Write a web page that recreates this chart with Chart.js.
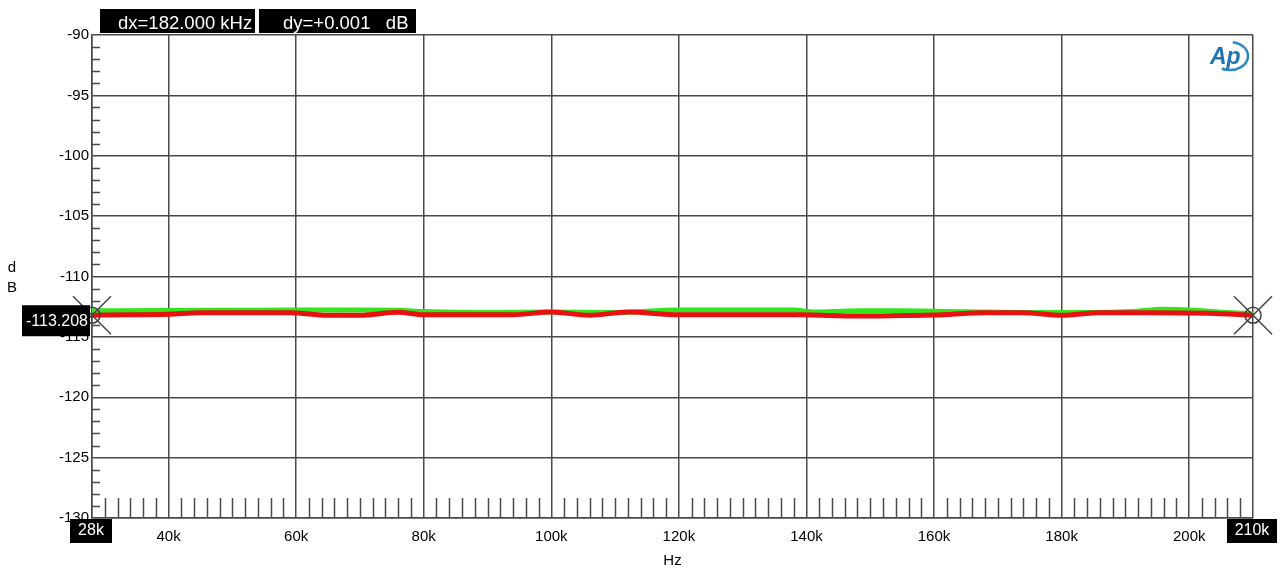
<!DOCTYPE html>
<html>
<head>
<meta charset="utf-8">
<script src="https://cdn.jsdelivr.net/npm/chart.js@4/dist/chart.umd.min.js"></script>
<style>
  html, body { margin: 0; padding: 0; background: #fff; }
  #wrap { width: 1282px; height: 570px; position: relative; }
</style>
</head>
<body>
<div id="wrap"><canvas id="c" width="1282" height="570"></canvas></div>
<script>
// ---- data (frequency in kHz, level in dB) ----
const freqGreen = [28, 40, 50, 60, 70, 76, 80, 90, 100, 110, 120, 130, 138, 141, 148, 155, 160, 165, 175, 185, 191, 196, 200, 205, 210];
const valGreen  = [-112.83, -112.82, -112.80, -112.77, -112.77, -112.80, -112.90, -112.98, -112.94, -112.98, -112.77, -112.77, -112.78, -112.94, -112.84, -112.84, -112.88, -112.92, -112.98, -112.98, -112.90, -112.72, -112.77, -112.95, -113.10];

const freqRed = [28, 34, 40, 45, 52, 59, 65, 70, 76, 80, 87, 94, 100, 106, 112, 120, 130, 139, 148, 155, 160, 168, 174, 180, 186, 194, 203, 210];
const valRed  = [-113.20, -113.17, -113.13, -113.00, -113.00, -113.00, -113.21, -113.21, -112.96, -113.17, -113.17, -113.17, -112.94, -113.21, -112.94, -113.17, -113.17, -113.17, -113.27, -113.23, -113.19, -113.00, -113.00, -113.21, -113.00, -113.00, -113.05, -113.20];

const xTickValues = [28, 40, 60, 80, 100, 120, 140, 160, 180, 200, 210];
const xTickLabels = ['', '40k', '60k', '80k', '100k', '120k', '140k', '160k', '180k', '200k', ''];
const yTickLabels = ['-130', '-125', '-120', '-115', '-110', '-105', '-100', '-95', '-90'];

const cursorX = [28, 210];
const cursorY = [-113.208, -113.207];
const cursorYLabel = '-113.208';
const cursorXLabels = ['28k', '210k'];
const readoutDx = 'dx=182.000 kHz';
const readoutDy = 'dy=+0.001   dB';

const FONT = '"Liberation Sans", Arial, Helvetica, sans-serif';
const GRID = '#4a4a4a';

const overlay = {
  id: 'overlay',
  beforeDatasetsDraw(chart) {
    const ctx = chart.ctx, xs = chart.scales.x, ys = chart.scales.y, a = chart.chartArea;
    ctx.save();
    ctx.strokeStyle = GRID;
    ctx.lineWidth = 1.5;
    ctx.beginPath();
    for (let f = 30; f < 210; f += 2) {
      if (f % 20 === 0) continue;
      const px = Math.round(xs.getPixelForValue(f)) + 0.5;
      ctx.moveTo(px, a.bottom);
      ctx.lineTo(px, a.bottom - 20);
    }
    for (let v = -129; v < -90; v++) {
      if (v % 5 === 0) continue;
      const py = Math.round(ys.getPixelForValue(v)) + 0.5;
      ctx.moveTo(a.left, py);
      ctx.lineTo(a.left + 8, py);
    }
    ctx.stroke();
    ctx.restore();
  },
  afterDraw(chart) {
    const ctx = chart.ctx, xs = chart.scales.x, ys = chart.scales.y, a = chart.chartArea;
    ctx.save();
    // cursors
    ctx.strokeStyle = '#444';
    ctx.lineWidth = 1.5;
    for (let i = 0; i < cursorX.length; i++) {
      const px = xs.getPixelForValue(cursorX[i]);
      const py = ys.getPixelForValue(cursorY[i]);
      ctx.beginPath();
      ctx.moveTo(px - 19, py - 19); ctx.lineTo(px + 19, py + 19);
      ctx.moveTo(px - 19, py + 19); ctx.lineTo(px + 19, py - 19);
      ctx.stroke();
      ctx.beginPath();
      ctx.arc(px, py, 8, 0, Math.PI * 2);
      ctx.stroke();
    }
    // y cursor readout box
    const pyc = ys.getPixelForValue(cursorY[0]);
    ctx.fillStyle = '#000';
    ctx.fillRect(22, pyc - 10, 68, 31);
    ctx.fillStyle = '#fff';
    ctx.font = '16px ' + FONT;
    ctx.textAlign = 'right';
    ctx.textBaseline = 'middle';
    ctx.fillText(cursorYLabel, 88, pyc + 6);
    // x cursor boxes
    ctx.textAlign = 'center';
    ctx.font = '16px ' + FONT;
    const bx0 = xs.getPixelForValue(cursorX[0]);
    ctx.fillStyle = '#000';
    ctx.fillRect(bx0 - 22, a.bottom + 1, 42, 24);
    ctx.fillStyle = '#fff';
    ctx.fillText(cursorXLabels[0], bx0 - 1, a.bottom + 13);
    const bx1 = xs.getPixelForValue(cursorX[1]);
    ctx.fillStyle = '#000';
    ctx.fillRect(bx1 - 26, a.bottom + 1, 50, 24);
    ctx.fillStyle = '#fff';
    ctx.fillText(cursorXLabels[1], bx1 - 1, a.bottom + 13);
    // top readouts
    ctx.fillStyle = '#000';
    ctx.fillRect(100, 9, 155, 24);
    ctx.fillRect(259, 9, 157, 24);
    ctx.fillStyle = '#fff';
    ctx.font = '18.5px ' + FONT;
    ctx.textAlign = 'left';
    ctx.textBaseline = 'alphabetic';
    ctx.fillText(readoutDx, 118, 29);
    ctx.fillText(readoutDy, 283, 29);
    // y axis title (stacked letters)
    ctx.fillStyle = '#000';
    ctx.font = '15px ' + FONT;
    ctx.textAlign = 'center';
    ctx.textBaseline = 'middle';
    ctx.fillText('d', 12, 268);
    ctx.fillText('B', 12, 288);
    // Ap logo
    ctx.fillStyle = '#1f74b5';
    ctx.font = 'italic bold 23px ' + FONT;
    ctx.textAlign = 'left';
    ctx.textBaseline = 'alphabetic';
    ctx.fillText('Ap', 1210, 64);
    ctx.strokeStyle = '#2a88c8';
    ctx.lineWidth = 2.5;
    ctx.beginPath();
    ctx.ellipse(1230, 56, 18, 14, 0, -Math.PI * 0.45, Math.PI * 0.65);
    ctx.stroke();
    ctx.restore();
  }
};

new Chart(document.getElementById('c'), {
  type: 'line',
  data: {
    datasets: [
      {
        label: 'Ch A',
        data: freqRed.map((f, i) => ({ x: f, y: valRed[i] })),
        borderColor: '#e81010',
        borderWidth: 5,
        pointRadius: 0,
        tension: 0.4,
        cubicInterpolationMode: 'monotone',
        fill: false
      },
      {
        label: 'Ch B',
        data: freqGreen.map((f, i) => ({ x: f, y: valGreen[i] })),
        borderColor: '#33e61a',
        borderWidth: 5,
        pointRadius: 0,
        tension: 0.4,
        cubicInterpolationMode: 'monotone',
        fill: false
      }
    ]
  },
  options: {
    responsive: false,
    animation: false,
    devicePixelRatio: 1,
    layout: { padding: { left: 0, top: 35, right: 29, bottom: 0 } },
    plugins: { legend: { display: false }, tooltip: { enabled: false } },
    scales: {
      x: {
        type: 'linear',
        min: 28,
        max: 210,
        afterBuildTicks: s => { s.ticks = xTickValues.map(v => ({ value: v })); },
        afterFit: s => { s.height = 52; },
        ticks: {
          autoSkip: false,
          maxRotation: 0,
          padding: 10,
          color: '#000',
          font: { family: FONT, size: 15 },
          callback: (v) => { const i = xTickValues.indexOf(v); return i >= 0 ? xTickLabels[i] : ''; }
        },
        grid: { color: GRID, lineWidth: 1.5, drawTicks: false },
        border: { display: true, color: GRID, width: 1.5 },
        title: { display: true, text: 'Hz', color: '#000', font: { family: FONT, size: 15 }, padding: { top: 0, bottom: 0 } }
      },
      y: {
        type: 'linear',
        min: -130,
        max: -90,
        afterBuildTicks: s => { s.ticks = yTickLabels.map(t => ({ value: Number(t) })); },
        afterFit: s => { s.width = 92; },
        ticks: {
          padding: 3,
          color: '#000',
          font: { family: FONT, size: 15 },
          callback: (v) => { const i = yTickLabels.indexOf(String(v)); return i >= 0 ? yTickLabels[i] : ''; }
        },
        grid: { color: GRID, lineWidth: 1.5, drawTicks: false },
        border: { display: true, color: GRID, width: 1.5 }
      }
    }
  },
  plugins: [overlay]
});
</script>
</body>
</html>
